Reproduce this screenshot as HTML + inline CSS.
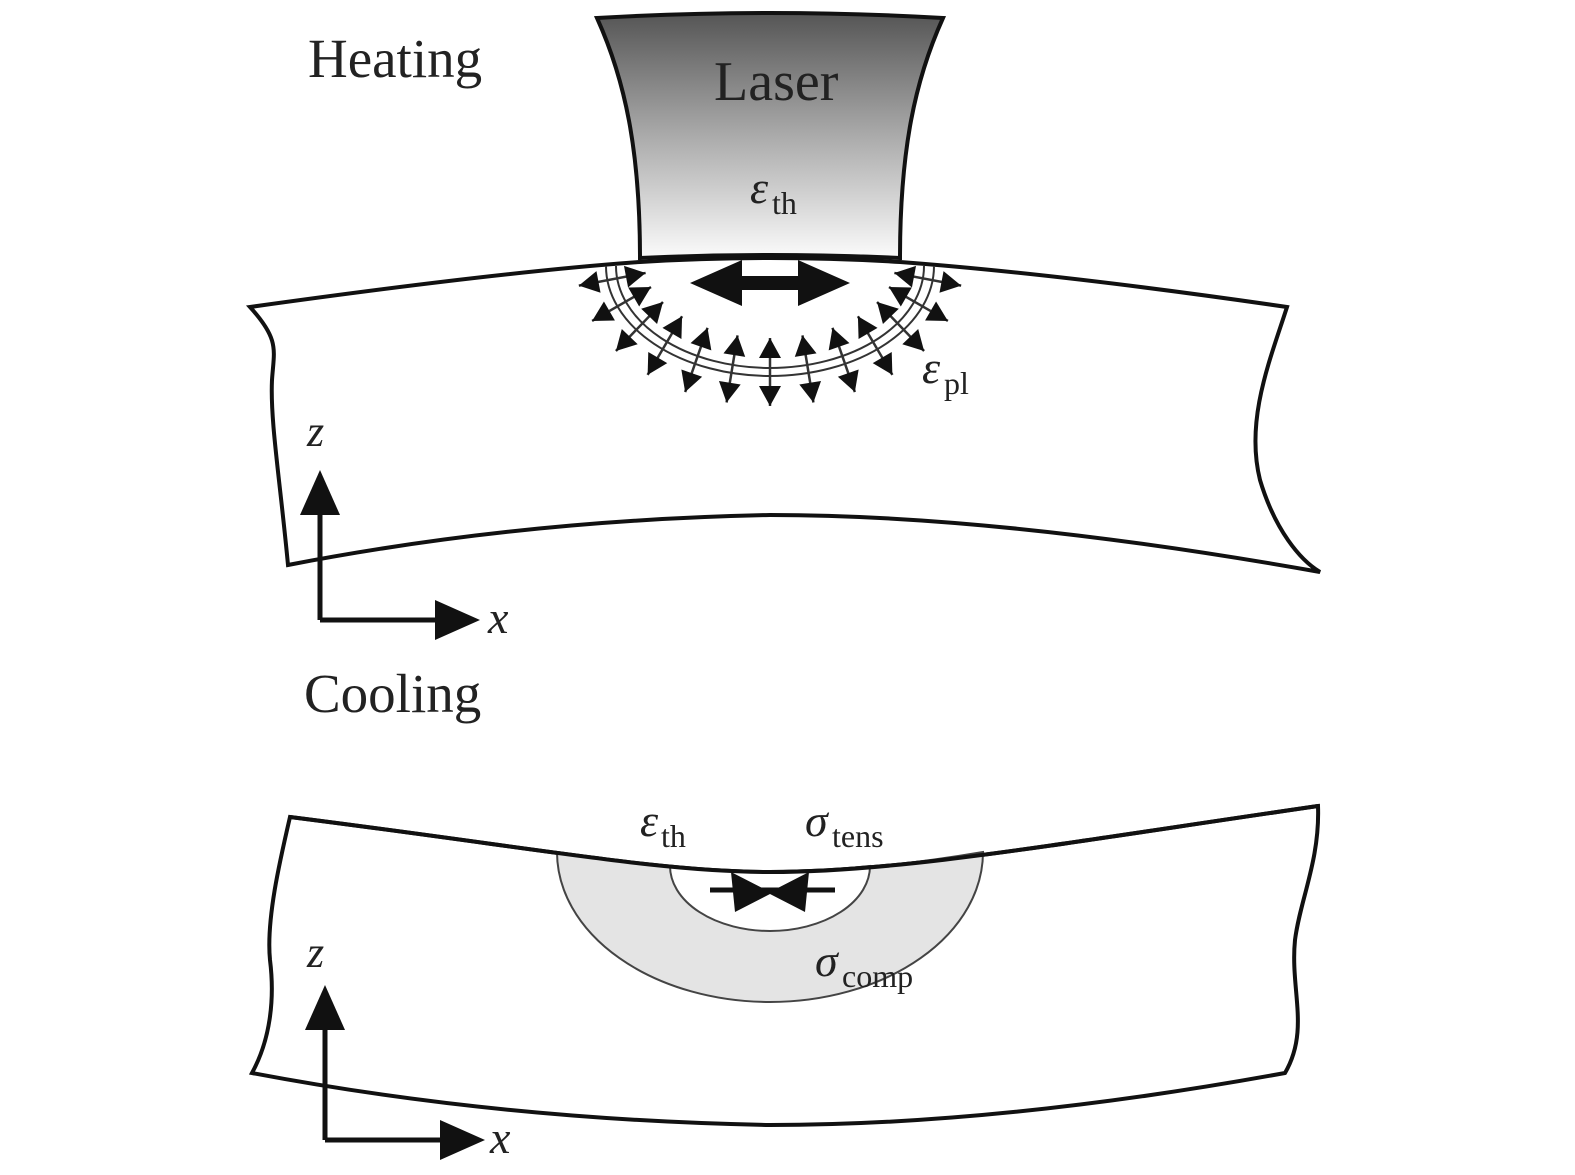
<!DOCTYPE html>
<html><head><meta charset="utf-8"><style>
html,body{margin:0;padding:0;background:#fff}
svg{display:block}
text{font-family:"Liberation Serif",serif;fill:#222}
</style></head><body>
<svg id="s" width="1575" height="1175" viewBox="0 0 1575 1175" xmlns="http://www.w3.org/2000/svg">
<defs>
<linearGradient id="g" x1="0" y1="0" x2="0" y2="1">
<stop offset="0" stop-color="#555"/><stop offset="0.5" stop-color="#aaa"/><stop offset="1" stop-color="#fbfbfb"/>
</linearGradient>
</defs>
<!-- top plate -->
<path d="M250,307 Q500,272 640,262 Q770,254 900,262 Q1060,274 1287,307 C1270,360 1245,420 1260,480 C1275,530 1300,560 1320,572 Q1000,515 770,515 Q520,520 288,565 C280,480 270,420 272,380 C274,350 280,340 250,307 Z" fill="#fff" stroke="#111" stroke-width="4"/>
<!-- laser -->
<path d="M597,18 Q770,8 943,18 C915,80 900,150 900,258 Q770,252 640,258 C640,150 625,80 597,18 Z" fill="url(#g)" stroke="#111" stroke-width="4"/>
<g id="arcs" fill="none" stroke="#333" stroke-width="2">
<path d="M606,266 A164,110 0 0 0 934,266"/>
<path d="M616,266 A154,102 0 0 0 924,266"/>
</g>
<g id="arr"></g>
<!-- horizontal double arrow -->
<path d="M690,283 L742,260 L742,276 L798,276 L798,260 L850,283 L798,306 L798,290 L742,290 L742,306 Z" fill="#111"/>
<!-- bottom plate -->
<path d="M290,817 C550,850 660,872 770,872 C900,872 1050,845 1318,806 C1320,860 1300,900 1295,940 C1290,990 1310,1030 1285,1073 Q1000,1125 770,1125 Q500,1120 252,1073 C270,1040 275,1000 270,960 C266,920 280,860 290,817 Z" fill="#fff" stroke="#111" stroke-width="4"/>
<path d="M557,852 A213,150 0 0 0 983,852 C900,866 830,872 770,872 C700,872 620,862 557,852 Z" fill="#e4e4e4" stroke="#444" stroke-width="2"/>
<path d="M670,866 A100,65 0 0 0 870,866 C830,870 800,872 770,872 C740,872 710,870 670,866 Z" fill="#fff" stroke="#444" stroke-width="2"/>
<path d="M290,817 C550,850 660,872 770,872 C900,872 1050,845 1318,806" fill="none" stroke="#111" stroke-width="4"/>
<path d="M731,872 L770,892 L809,872 L805,912 L770,894 L735,912 Z" fill="#111"/>
<line x1="710" y1="890" x2="835" y2="890" stroke="#111" stroke-width="5"/>
<!-- axes -->
<g stroke="#111" stroke-width="5" fill="none">
<path d="M320,620 L320,500 M320,620 L450,620"/>
<path d="M325,1140 L325,1015 M325,1140 L455,1140"/>
</g>
<g fill="#111">
<path d="M320,470 L300,515 L340,515Z"/><path d="M480,620 L435,600 L435,640Z"/>
<path d="M325,985 L305,1030 L345,1030Z"/><path d="M485,1140 L440,1120 L440,1160Z"/>
</g>
<!-- text -->
<text x="308" y="77" font-size="55">Heating</text>
<text x="714" y="100" font-size="56">Laser</text>
<text x="750" y="203" font-size="46" font-style="italic">ε</text><text x="772" y="214" font-size="32">th</text>
<text x="922" y="383" font-size="46" font-style="italic">ε</text><text x="944" y="394" font-size="32">pl</text>
<text x="307" y="446" font-size="44" font-style="italic">z</text>
<text x="488" y="633" font-size="46" font-style="italic">x</text>
<text x="304" y="712" font-size="55">Cooling</text>
<text x="640" y="836" font-size="46" font-style="italic">ε</text><text x="661" y="847" font-size="32">th</text>
<text x="805" y="836" font-size="46" font-style="italic">σ</text><text x="832" y="847" font-size="32">tens</text>
<text x="815" y="976" font-size="46" font-style="italic">σ</text><text x="842" y="987" font-size="32">comp</text>
<text x="307" y="967" font-size="44" font-style="italic">z</text>
<text x="490" y="1153" font-size="46" font-style="italic">x</text>
</svg>
<script>
var g=document.getElementById('arr'),cx=770,cy=266,rx=159,ry=106,h='';
function tri(x,y,ux,uy){var L=20,W=11,bx=x-ux*L,by=y-uy*L;return '<path d="M'+x+','+y+' L'+(bx-uy*W)+','+(by+ux*W)+' L'+(bx+uy*W)+','+(by-ux*W)+'Z" fill="#111"/>';}
for(var i=0;i<=12;i++){var t=Math.PI*(0.04+0.92*i/12);var x=cx-rx*Math.cos(t),y=cy+ry*Math.sin(t);
var nx=-Math.cos(t)*ry,ny=Math.sin(t)*rx;var n=Math.hypot(nx,ny);nx/=n;ny/=n;
var d=34;var x1=x-nx*d,y1=y-ny*d,x2=x+nx*d,y2=y+ny*d;
h+='<line x1="'+x1+'" y1="'+y1+'" x2="'+x2+'" y2="'+y2+'" stroke="#333" stroke-width="2.5"/>';
h+=tri(x2,y2,nx,ny)+tri(x1,y1,-nx,-ny);}
g.innerHTML=h;
</script>
</body></html>
